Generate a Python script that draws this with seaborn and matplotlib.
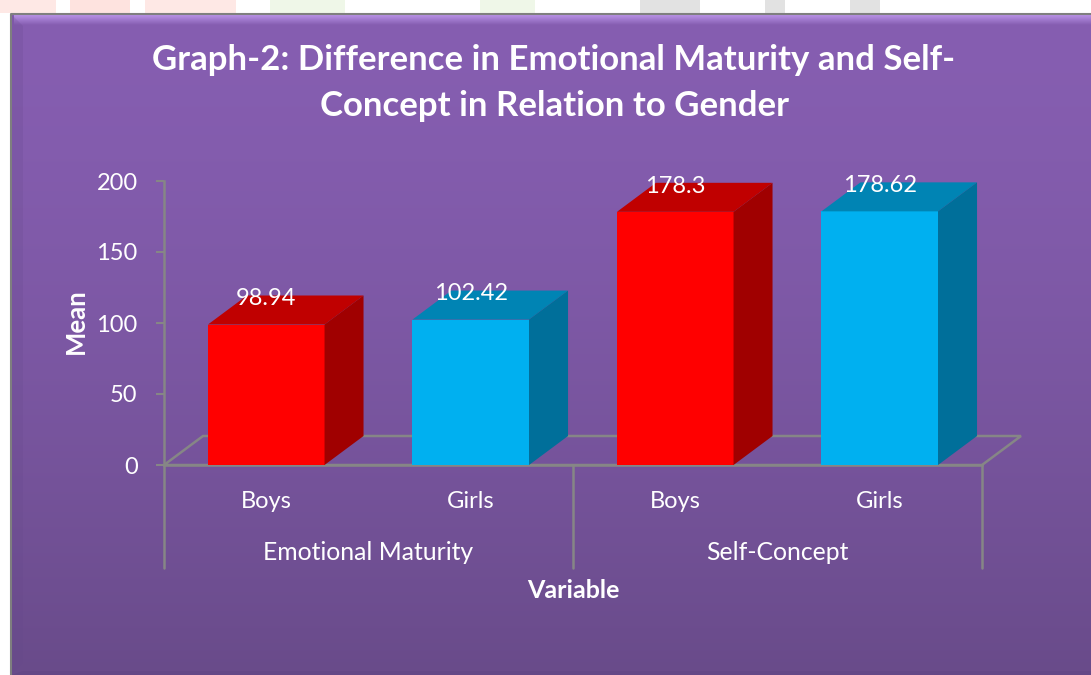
import matplotlib
matplotlib.use('Agg')
import matplotlib.pyplot as plt
import numpy as np
import pandas as pd
import seaborn as sns
from matplotlib.patches import Polygon, Rectangle

# data
groups = ['Emotional Maturity', 'Self-Concept']
genders = ['Boys', 'Girls', 'Boys', 'Girls']
variable = ['Emotional Maturity', 'Emotional Maturity', 'Self-Concept', 'Self-Concept']
means = [98.94, 102.42, 178.3, 178.62]
y_ticks = [0, 50, 100, 150, 200]

W, H = 1091, 675
FRONT = {'Boys': '#FF0000', 'Girls': '#00B0F0'}
TOP = {'Boys': '#C00000', 'Girls': '#0084B4'}
SIDE = {'Boys': '#A00000', 'Girls': '#006F9A'}
GREY = '#868686'

sns.set_theme(style='white')
plt.rcParams['font.family'] = ['Lato', 'DejaVu Sans']

df = pd.DataFrame({'key': [v + g for v, g in zip(variable, genders)],
                   'gender': genders, 'mean': means})

fig = plt.figure(figsize=(W / 100, H / 100), dpi=100, facecolor='white')


def px_axes(x0, y0, x1, y1):
    # axes from pixel box, y counted from the top like in the reference
    return fig.add_axes([x0 / W, 1 - y1 / H, (x1 - x0) / W, (y1 - y0) / H])


# background panel in pixel coordinates
bg = fig.add_axes([0, 0, 1, 1], zorder=0)
bg.axis('off')

# faint watermark pieces showing above the panel
for x0, x1, c in [(0, 56, '#FEE8E5'), (70, 130, '#FEE3DF'), (145, 236, '#FEE8E5'),
                  (270, 345, '#EFF7E8'), (480, 535, '#EFF7E8'),
                  (640, 700, '#E2E2E2'), (765, 785, '#E2E2E2'), (850, 880, '#E2E2E2')]:
    bg.add_patch(Rectangle((x0, 0), x1 - x0, 13, fc=c, ec='none'))

# panel stays light through the upper part, then darkens
grad = (np.linspace(0, 1, 256) ** 1.5)[:, None, None]
c_top = np.array([0x86, 0x5E, 0xB1]) / 255
c_bot = np.array([0x69, 0x4B, 0x8A]) / 255
bg.imshow(c_top + (c_bot - c_top) * grad, extent=[11, W, 675, 14], aspect='auto', zorder=1)

# bevel strips
band = np.linspace(0, 1, 32)[:, None, None]
c_light = np.array([0xBC, 0x96, 0xEA]) / 255
bg.imshow(c_light + (c_top - c_light) * band, extent=[14, W, 25, 14], aspect='auto', zorder=2)
bg.add_patch(Polygon([(11, 14), (23, 26), (23, 663), (11, 675)], fc='#64478A', ec='none', zorder=3, alpha=0.2))
bg.add_patch(Polygon([(11, 675), (23, 671), (W, 671), (W, 675)], fc='#5E4480', ec='none', zorder=3, alpha=0.4))
bg.plot([11, 11, W], [675, 14, 14], color='#7F7F7F', lw=1.5, zorder=4)
bg.set_xlim(0, W)
bg.set_ylim(H, 0)

# chart axes: x from the first to last separator, y from 200 to 0
ax = px_axes(164, 181, 982, 465)
ax.patch.set_alpha(0)
ax.set_zorder(2)

sns.barplot(data=df, x='key', y='mean', hue='gender', palette=FRONT, dodge=False,
            width=0.57, order=list(df['key']), legend=False, saturation=1, linewidth=0,
            ax=ax, zorder=3)
ax.set_ylim(0, 200)
ax.set_xlim(-0.5, 3.5)

# pixel depth of the 3d look converted to data units
dx = 39 / (818 / 4)
dy = 29 / (284 / 200)

# floor behind the bars
ax.add_patch(Polygon([(-0.5, 0), (-0.5 + dx, dy), (3.5 + dx, dy), (3.5, 0)], closed=True,
                     fc='none', ec=GREY, lw=1.8, clip_on=False, zorder=1))

bars = sorted([p for p in ax.patches if isinstance(p, Rectangle)], key=lambda p: p.get_x())
for bar, g, m in zip(bars, genders, means):
    x0, x1 = bar.get_x(), bar.get_x() + bar.get_width()
    ax.add_patch(Polygon([(x0, m), (x1, m), (x1 + dx, m + dy), (x0 + dx, m + dy)],
                         fc=TOP[g], ec='none', clip_on=False, zorder=3))
    ax.add_patch(Polygon([(x1, 0), (x1 + dx, dy), (x1 + dx, m + dy), (x1, m)],
                         fc=SIDE[g], ec='none', clip_on=False, zorder=3))
    ax.annotate(f'{m:g}', (x0 + bar.get_width() / 2, m), xytext=(0, 18.5), textcoords='offset points',
                ha='center', va='center', color='white', fontsize=17, zorder=5, annotation_clip=False)

# axis lines and ticks
sns.despine(ax=ax, top=True, right=True)
for s in ['left', 'bottom']:
    ax.spines[s].set_color(GREY)
    ax.spines[s].set_linewidth(1.8)
ax.set_yticks(y_ticks)
ax.tick_params(axis='y', left=True, length=6, width=1.5, color=GREY, labelcolor='white',
               labelsize=17, pad=13)
ax.set_xticks(range(len(genders)))
ax.set_xticklabels(genders)
ax.tick_params(axis='x', bottom=False, labelcolor='white', labelsize=17, pad=12.5)
ax.set_xlabel('')
ax.set_ylabel('Mean', color='white', fontsize=18.5, fontweight='bold')
ax.yaxis.set_label_coords((88 - 164) / 818, 0.505)

# two level category axis
trans = ax.get_xaxis_transform()
for xs in [-0.5, 1.5, 3.5]:
    ax.plot([xs, xs], [0, -103 / 284], transform=trans, color=GREY, lw=1.8, clip_on=False, zorder=2)
for i, name in enumerate(groups):
    ax.text(2 * i + 0.5, -87 / 284, name, transform=trans, ha='center', va='center',
            color='white', fontsize=17.8)
ax.text(1.5, -126 / 284, 'Variable', transform=trans, ha='center', va='center',
        color='white', fontsize=18, fontweight='bold')

fig.text(554 / W, 1 - 83 / H, 'Graph-2: Difference in Emotional Maturity and Self-\nConcept in Relation to Gender',
         ha='center', va='center', color='white', fontsize=25, fontweight='bold', linespacing=1.5)

fig.savefig('out.png', dpi=100)
